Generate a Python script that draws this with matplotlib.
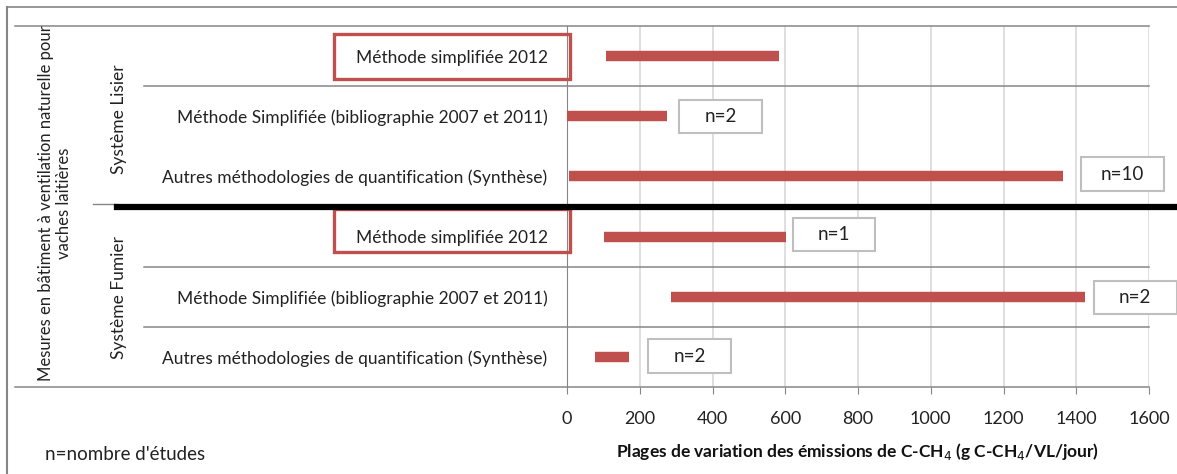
# -*- coding:utf-8 -*-
import matplotlib
matplotlib.use('Agg')
import matplotlib.pyplot as plt
import matplotlib.transforms as mtransforms
from matplotlib.patches import Rectangle
from matplotlib.lines import Line2D

plt.rcParams['font.family'] = ['Lato', 'DejaVu Sans']

# Data: emission ranges (g C-CH4/VL/jour), top row first
methods = ['Méthode simplifiée 2012',
           'Méthode Simplifiée (bibliographie 2007 et 2011)',
           'Autres méthodologies de quantification (Synthèse)',
           'Méthode simplifiée 2012',
           'Méthode Simplifiée (bibliographie 2007 et 2011)',
           'Autres méthodologies de quantification (Synthèse)']
systems = ['Système Lisier', 'Système Fumier']
range_min = [107, 0, 5, 102, 285, 77]
range_max = [583, 275, 1363, 602, 1424, 170]
n_studies = ['', 'n=2', 'n=10', 'n=1', 'n=2', 'n=2']
xticks = [0, 200, 400, 600, 800, 1000, 1200, 1400, 1600]

# layout of the n= boxes (x centre in data units, y offset in rows)
box_x = [0, 423, 1526, 734, 1562, 337]
box_dy = [0, 0, 0.04, 0.04, -0.02, 0.015]

RED = '#c0504d'
GRID = '#d9d9d9'
AXC = '#868686'
TXT = '#222222'

fig = plt.figure(figsize=(11.77, 4.74), dpi=100)
ax = fig.add_axes([567 / 1177, 87 / 474, 582 / 1177, 361 / 474])

ax.set_xlim(0, 1600)
ax.set_ylim(0, 6)
ypos = [5.5 - i for i in range(len(methods))]

# grid
ax.set_xticks(xticks)
ax.set_xticklabels([str(t) for t in xticks], fontsize=13, color=TXT)
for t in xticks[1:]:
    ax.axvline(t, color=GRID, lw=1.2, zorder=0)
ax.tick_params(axis='x', length=5, color=AXC, pad=12)
ax.set_yticks(ypos)
ax.set_yticklabels(methods, fontsize=12.5, color=TXT)
ax.tick_params(axis='y', length=0, pad=14)
for s in ['top', 'right']:
    ax.spines[s].set_visible(False)
ax.spines['left'].set_color(AXC)
ax.spines['bottom'].set_visible(False)

# range bars
for y, lo, hi in zip(ypos, range_min, range_max):
    ax.plot([lo, hi], [y, y], color=RED, lw=7.5, solid_capstyle='butt', zorder=3)

# n= boxes
for y, x, dy, lab in zip(ypos, box_x, box_dy, n_studies):
    if not lab:
        continue
    ax.add_patch(Rectangle((x - 114, y + dy - 0.275), 228, 0.55, facecolor='white',
                           edgecolor='#bfbfbf', lw=1.5, clip_on=False, zorder=4))
    ax.text(x, y + dy, lab, ha='center', va='center', fontsize=13.5, color=TXT,
            zorder=5, clip_on=False)

# separators (x in axes fraction, y in data)
tr = mtransforms.blended_transform_factory(ax.transAxes, ax.transData)
for y in [6.0, 0.0]:
    ax.add_line(Line2D([-0.948, 1.0], [y, y], color=AXC, lw=1.1, transform=tr, clip_on=False))
for y in [5.0, 2.0, 1.0]:
    ax.add_line(Line2D([-0.727, 1.0], [y, y], color=AXC, lw=1.1, transform=tr, clip_on=False))
ax.add_line(Line2D([-0.815, -0.773], [3.04, 3.04], color=AXC, lw=1.0, transform=tr, clip_on=False))
ax.add_line(Line2D([-0.773, 1.06], [3.0, 3.0], color='black', lw=4.5, transform=tr,
                   clip_on=False, zorder=6))

# highlight boxes around the 2012 method
for y0, y1 in [(5.12, 5.87), (2.24, 2.96)]:
    ax.add_patch(Rectangle((-0.400, y0), 0.405, y1 - y0, transform=tr, fill=False,
                           edgecolor=RED, lw=2.4, clip_on=False, zorder=5))

# group labels
ax.text(-0.77, 4.45, systems[0], transform=tr, rotation=90, ha='center', va='center',
        fontsize=12.5, color=TXT)
ax.text(-0.77, 1.48, systems[1], transform=tr, rotation=90, ha='center', va='center',
        fontsize=12.5, color=TXT)
ax.text(-0.88, 3.05, 'Mesures en bâtiment à ventilation naturelle pour\nvaches laitières',
        transform=tr, rotation=90, ha='center', va='center', fontsize=12,
        color=TXT, linespacing=1.15)

ax.set_xlabel('Plages de variation des émissions de C-CH$_4$ (g C-CH$_4$/VL/jour)',
              fontsize=12.5, fontweight='bold', labelpad=10, color='#111111')

fig.text(45 / 1177, 1 - 455 / 474, "n=nombre d'études", fontsize=13.5, va='center',
         color=TXT)

# outer frame
fig.add_artist(Line2D([7 / 1177, 1.0], [1 - 7 / 474, 1 - 7 / 474], color=AXC, lw=1.2,
                      transform=fig.transFigure))
fig.add_artist(Line2D([7 / 1177, 7 / 1177], [0, 1 - 7 / 474], color=AXC, lw=1.5,
                      transform=fig.transFigure))

fig.savefig('out.png', dpi=100)
